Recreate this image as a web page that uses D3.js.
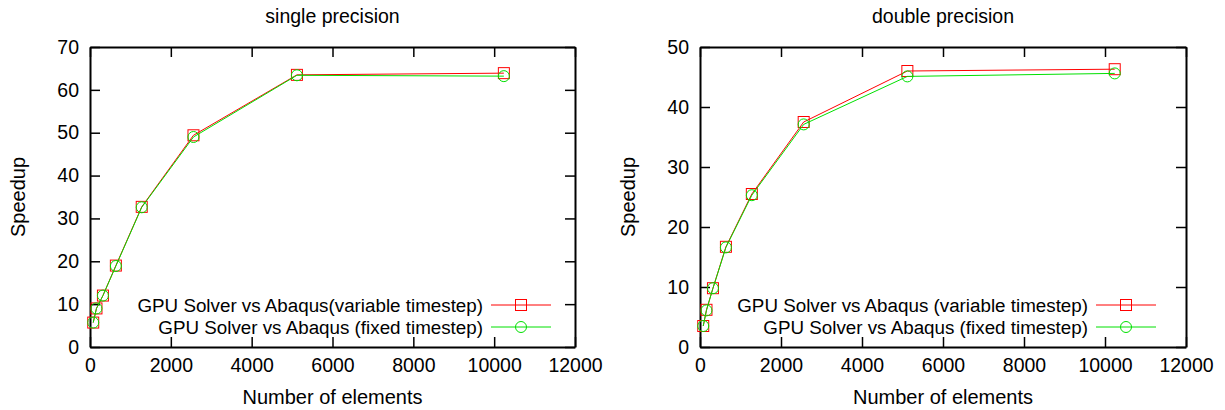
<!DOCTYPE html>
<html>
<head>
<meta charset="utf-8">
<script src="https://cdn.jsdelivr.net/npm/d3@7"></script>
<style>
  body { margin: 0; background: #fff; }
  svg { font-family: "Liberation Sans", Arial, sans-serif; }
</style>
</head>
<body>
<script>
// Data
var elements = [80, 160, 320, 640, 1280, 2560, 5120, 10240];

var singleVariable = [5.7, 9.0, 12.0, 19.0, 32.7, 49.4, 63.5, 63.9];
var singleFixed    = [5.7, 9.0, 12.0, 18.9, 32.6, 49.0, 63.4, 63.2];

var doubleVariable = [3.5, 6.2, 9.8, 16.7, 25.5, 37.5, 46.0, 46.3];
var doubleFixed    = [3.5, 6.1, 9.8, 16.6, 25.3, 37.1, 45.1, 45.6];

var xTicks = [0, 2000, 4000, 6000, 8000, 10000, 12000];
var singleYTicks = [0, 10, 20, 30, 40, 50, 60, 70];
var doubleYTicks = [0, 10, 20, 30, 40, 50];

var svgWidth = 1225;
var svgHeight = 410;

var svg = d3.select("body")
    .append("svg")
    .attr("width", svgWidth)
    .attr("height", svgHeight);

function drawPanel(opts) {
    var left = opts.left, right = opts.right, top = 47, bottom = 347;
    var w = right - left, h = bottom - top;

    var g = svg.append("g")
        .attr("transform", `translate(${left}, ${top})`);

    var x = d3.scaleLinear().domain([0, 12000]).range([0, w]);
    var y = d3.scaleLinear().domain([0, opts.yMax]).range([h, 0]);

    // ticks (pointing inward, mirrored on top/right like gnuplot)
    var bottomAxis = d3.axisBottom(x).tickValues(xTicks).tickFormat(d3.format("d"))
        .tickSizeInner(-10).tickSizeOuter(0).tickPadding(11);
    var leftAxis = d3.axisLeft(y).tickValues(opts.yTicks).tickSizeInner(-10).tickSizeOuter(0).tickPadding(11);
    var topAxis = d3.axisTop(x).tickValues(xTicks).tickSizeInner(-10).tickSizeOuter(0).tickFormat("");
    var rightAxis = d3.axisRight(y).tickValues(opts.yTicks).tickSizeInner(-10).tickSizeOuter(0).tickFormat("");

    var axes = [
        g.append("g").attr("transform", `translate(0, ${h})`).call(bottomAxis),
        g.append("g").call(leftAxis),
        g.append("g").call(topAxis),
        g.append("g").attr("transform", `translate(${w}, 0)`).call(rightAxis)
    ];
    axes.forEach(function(a) {
        a.attr("font-size", null).attr("font-family", null);
        a.select(".domain").attr("stroke", "#000").attr("stroke-width", 2);
        a.selectAll(".tick line").attr("stroke", "#000").attr("stroke-width", 1.5);
        a.selectAll(".tick text")
            .attr("font-size", "19.5px")
            .attr("fill", "#000");
    });

    // title
    svg.append("text")
        .attr("x", left + w / 2)
        .attr("y", 23)
        .attr("text-anchor", "middle")
        .attr("font-size", "19.5px")
        .text(opts.title);

    // axis labels
    svg.append("text")
        .attr("x", left + w / 2)
        .attr("y", 404)
        .attr("text-anchor", "middle")
        .attr("font-size", "20px")
        .text("Number of elements");

    svg.append("text")
        .attr("transform", "rotate(-90)")
        .attr("x", -197)
        .attr("y", left - 65)
        .attr("text-anchor", "middle")
        .attr("font-size", "20px")
        .text("Speedup");

    var line = d3.line()
        .x(d => x(d[0]))
        .y(d => y(d[1]));

    var series = [
        { values: opts.variable, color: "#ff0000", shape: "square", label: opts.labels[0] },
        { values: opts.fixed, color: "#00e000", shape: "circle", label: opts.labels[1] }
    ];

    series.forEach(function(s) {
        var pts = elements.map((e, i) => [e, s.values[i]]);
        g.append("path")
            .datum(pts)
            .attr("fill", "none")
            .attr("stroke", s.color)
            .attr("stroke-width", 1)
            .attr("d", line);
        drawMarkers(g, pts.map(p => [x(p[0]), y(p[1])]), s);
    });

    // legend
    var legend = g.append("g");
    series.forEach(function(s, i) {
        var ly = 258 + i * 22;
        legend.append("text")
            .attr("x", opts.legendTextX)
            .attr("y", ly)
            .attr("dy", "0.35em")
            .attr("text-anchor", "end")
            .attr("font-size", "18.8px")
            .text(s.label);
        legend.append("line")
            .attr("x1", opts.legendTextX + 8)
            .attr("x2", opts.legendTextX + 68)
            .attr("y1", ly)
            .attr("y2", ly)
            .attr("stroke", s.color)
            .attr("stroke-width", 1);
        drawMarkers(legend, [[opts.legendTextX + 38, ly]], s);
    });
}

function drawMarkers(parent, pts, s) {
    if (s.shape === "square") {
        parent.selectAll(null)
            .data(pts)
            .enter()
            .append("rect")
            .attr("x", d => d[0] - 5.5)
            .attr("y", d => d[1] - 5.5)
            .attr("width", 11)
            .attr("height", 11)
            .attr("fill", "none")
            .attr("stroke", s.color)
            .attr("stroke-width", 1);
    } else {
        parent.selectAll(null)
            .data(pts)
            .enter()
            .append("circle")
            .attr("cx", d => d[0])
            .attr("cy", d => d[1])
            .attr("r", 5.5)
            .attr("fill", "none")
            .attr("stroke", s.color)
            .attr("stroke-width", 1);
    }
}

drawPanel({
    left: 90, right: 575, yMax: 70, yTicks: singleYTicks,
    title: "single precision",
    variable: singleVariable, fixed: singleFixed,
    labels: ["GPU Solver vs Abaqus(variable timestep)", "GPU Solver vs Abaqus (fixed timestep)"],
    legendTextX: 393
});

drawPanel({
    left: 700, right: 1186, yMax: 50, yTicks: doubleYTicks,
    title: "double precision",
    variable: doubleVariable, fixed: doubleFixed,
    labels: ["GPU Solver vs Abaqus (variable timestep)", "GPU Solver vs Abaqus (fixed timestep)"],
    legendTextX: 388
});
</script>
</body>
</html>
